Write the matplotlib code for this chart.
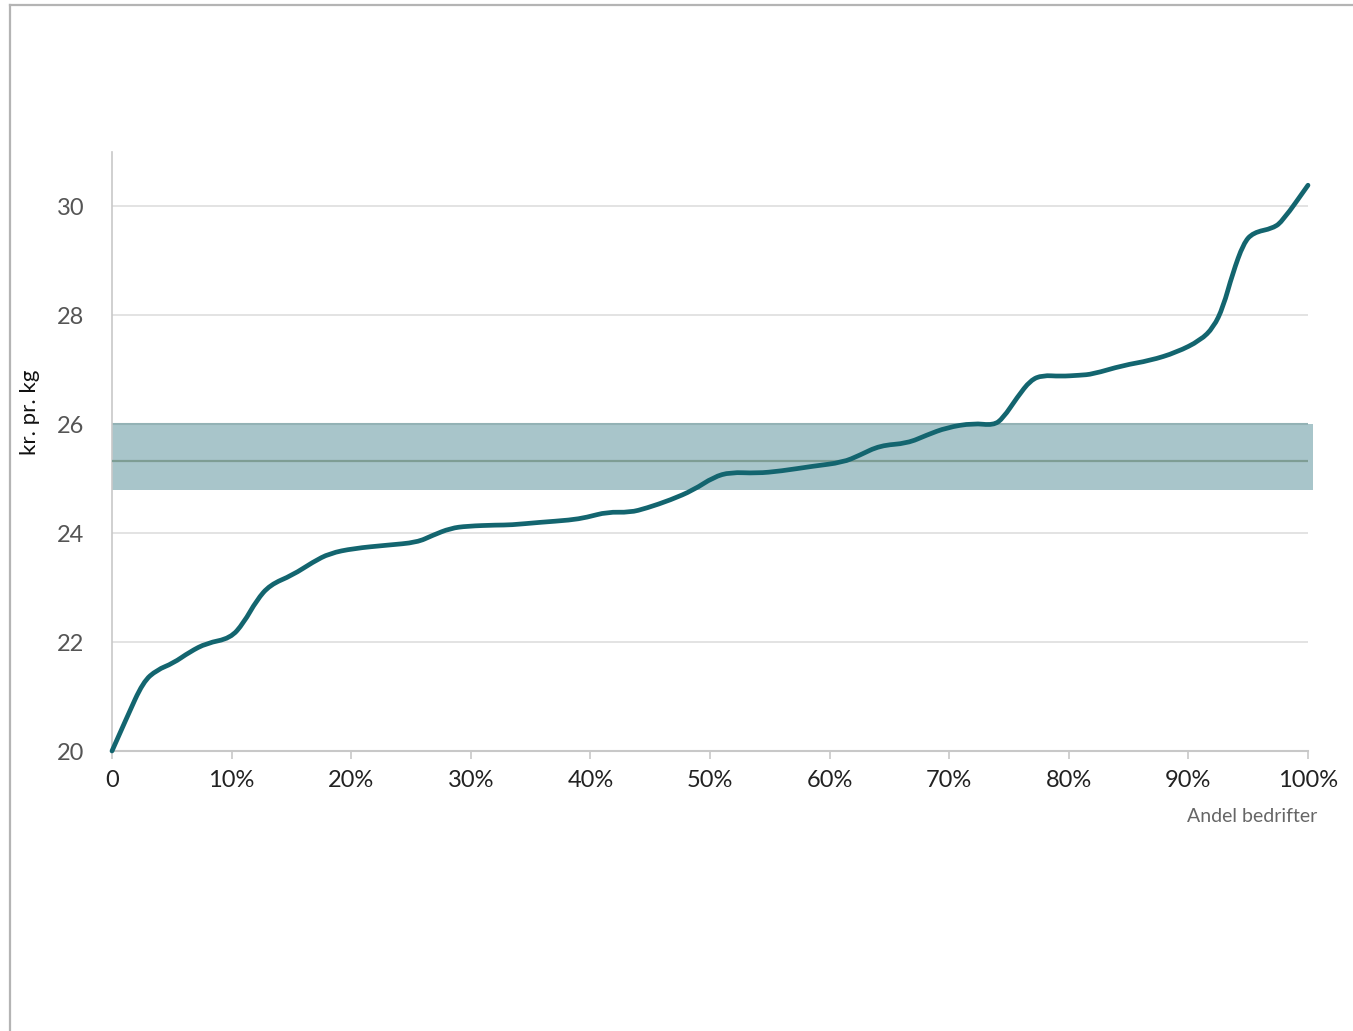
import matplotlib.pyplot as plt
from matplotlib.lines import Line2D
from matplotlib.path import Path
from matplotlib.patches import PathPatch

plt.rcParams['font.family'] = ['Lato', 'DejaVu Sans']

# Andel bedrifter (%) og kr. pr. kg
andel = [0, 1.25, 2.6, 3.76, 5.1, 6.5, 7.9, 9.9, 11.0, 12.1, 13.2, 15.1, 16.8, 18.2,
         20.2, 23.0, 25.5, 26.8, 28.3, 29.7, 32.2, 33.3, 35.8, 38.3, 39.7, 41.4,
         43.3, 44.7, 46.7, 48.6, 50.3, 51.7, 53.9, 55.9, 58.6, 61.1, 62.5, 64.2,
         66.5, 68.1, 69.8, 72.0, 73.7, 74.5, 75.7, 76.8, 77.8, 79.3, 80.9, 82.0,
         84.5, 86.8, 89.0, 91.0, 92.1, 92.9, 93.7, 94.6, 95.4, 97.1, 97.9, 100]
kr_pr_kg = [20.0, 20.62, 21.27, 21.49, 21.61, 21.82, 21.98, 22.07, 22.35, 22.77, 23.05,
            23.23, 23.47, 23.63, 23.72, 23.78, 23.83, 23.96, 24.09, 24.13, 24.15, 24.15,
            24.2, 24.24, 24.29, 24.39, 24.38, 24.46, 24.61, 24.79, 25.03, 25.12, 25.1,
            25.14, 25.23, 25.3, 25.43, 25.61, 25.65, 25.8, 25.94, 26.02, 25.98, 26.11,
            26.5, 26.81, 26.9, 26.88, 26.9, 26.92, 27.08, 27.17, 27.32, 27.54, 27.78,
            28.15, 28.77, 29.32, 29.52, 29.6, 29.74, 30.39]

# intervall og snitt
band_lav = 24.8
band_hoy = 26.0
snitt = 25.32

yticks = [20, 22, 24, 26, 28, 30]
xticks = [0, 10, 20, 30, 40, 50, 60, 70, 80, 90, 100]
xticklabels = ['0'] + [f'{t}%' for t in xticks[1:]]

fig = plt.figure(figsize=(13.53, 10.31), dpi=100)
ax = fig.add_axes([112 / 1353, 1 - 751 / 1031, (1308 - 112) / 1353, (751 - 152) / 1031])

# ramme rundt figuren
fig.add_artist(Line2D([10 / 1353, 1], [1 - 5 / 1031, 1 - 5 / 1031], color='#b4b4b4', lw=1.6))
fig.add_artist(Line2D([10 / 1353, 10 / 1353], [0, 1 - 5 / 1031], color='#b4b4b4', lw=1.6))

ax.set_xlim(0, 100)
ax.set_ylim(20, 31)

for y in yticks[1:]:
    ax.axhline(y, color='#dedede', lw=1.2, zorder=1)

ax.fill_between([0, 100.4], band_lav, band_hoy, color='#a8c5ca', lw=0, zorder=2, clip_on=False)
ax.plot([0, 100], [band_hoy, band_hoy], color='#93b2b5', lw=1.5, zorder=2)
ax.plot([0, 100], [snitt, snitt], color='#7e9d94', lw=1.6, zorder=3)

# glatt kurve: punktene brukes som kontrollpunkter, midtpunkter som ankere
pts = list(zip(andel, kr_pr_kg))
verts = [pts[0]]
codes = [Path.MOVETO]
for i in range(1, len(pts) - 1):
    mid = ((pts[i][0] + pts[i + 1][0]) / 2, (pts[i][1] + pts[i + 1][1]) / 2)
    verts += [pts[i], mid]
    codes += [Path.CURVE3, Path.CURVE3]
verts.append(pts[-1])
codes.append(Path.LINETO)
kurve = PathPatch(Path(verts, codes), fill=False, edgecolor='#13656f', lw=3.4,
                  joinstyle='round', capstyle='round', zorder=4, clip_on=False)
ax.add_patch(kurve)

for s in ['top', 'right']:
    ax.spines[s].set_visible(False)
ax.spines['left'].set_color('#c8c8c8')
ax.spines['bottom'].set_color('#c8c8c8')
ax.spines['left'].set_linewidth(1.2)
ax.spines['bottom'].set_linewidth(1.5)

ax.set_yticks(yticks)
ax.set_yticklabels([str(y) for y in yticks], fontsize=17, color='#555555')
ax.tick_params(axis='y', length=0, pad=20)
ax.set_xticks(xticks)
ax.set_xticklabels(xticklabels, fontsize=17, color='#222222')
ax.tick_params(axis='x', length=6, width=1.2, color='#c8c8c8', pad=8, direction='out')

fig.text(30 / 1353, 1 - 412 / 1031, 'kr. pr. kg', rotation=90, ha='center', va='center',
         fontsize=16, color='#111111')
fig.text(1317 / 1353, 1 - 816 / 1031, 'Andel bedrifter', ha='right', va='center',
         fontsize=14, color='#666666')

fig.savefig('out.png', dpi=100)
